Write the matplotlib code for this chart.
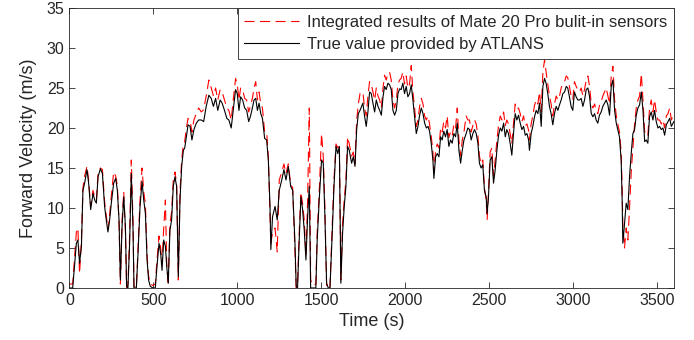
import numpy as np
import matplotlib
matplotlib.use("Agg")
import matplotlib.pyplot as plt

plt.rcParams["font.family"] = ["Liberation Sans", "DejaVu Sans"]

# time stamps (s), shared by both series
time_s = [
    0, 20, 30, 42, 51, 61, 72, 81, 91, 105, 115, 127, 141, 151, 161, 171, 185, 197, 210, 220,
    230, 240, 250, 264, 276, 286, 296, 304, 314, 324, 334, 341, 349, 359, 369, 379, 385, 399, 409, 421,
    433, 443, 453, 463, 472, 482, 498, 512, 522, 534, 544, 552, 562, 572, 580, 589, 599, 609, 619, 629,
    639, 649, 659, 669, 679, 687, 697, 707, 719, 730, 742, 756, 770, 786, 800, 815, 831, 845, 858, 871,
    884, 898, 910, 924, 938, 950, 964, 976, 990, 1000, 1010, 1020, 1032, 1044, 1056, 1068, 1078, 1090, 1100, 1110,
    1120, 1130, 1140, 1150, 1163, 1175, 1185, 1195, 1200, 1210, 1225, 1238, 1250, 1265, 1278, 1290, 1304, 1318, 1330, 1343,
    1351, 1359, 1369, 1379, 1389, 1399, 1409, 1419, 1429, 1437, 1452, 1468, 1476, 1488, 1502, 1512, 1522, 1532, 1542, 1552,
    1564, 1576, 1588, 1598, 1608, 1617, 1627, 1637, 1647, 1657, 1667, 1681, 1691, 1701, 1711, 1721, 1731, 1748, 1758, 1768,
    1778, 1788, 1798, 1808, 1818, 1828, 1838, 1848, 1858, 1868, 1877, 1887, 1897, 1907, 1917, 1927, 1937, 1947, 1957, 1967,
    1976, 1986, 1996, 2006, 2016, 2026, 2036, 2046, 2056, 2066, 2076, 2086, 2096, 2106, 2116, 2126, 2136, 2145, 2155, 2165,
    2171, 2181, 2191, 2201, 2211, 2220, 2230, 2240, 2250, 2260, 2270, 2280, 2290, 2300, 2310, 2320, 2330, 2340, 2350, 2363,
    2373, 2383, 2393, 2403, 2413, 2423, 2433, 2442, 2452, 2462, 2472, 2482, 2488, 2496, 2506, 2516, 2526, 2536, 2546, 2556,
    2566, 2576, 2586, 2596, 2605, 2615, 2625, 2635, 2645, 2655, 2665, 2675, 2685, 2695, 2705, 2715, 2725, 2735, 2740, 2750,
    2760, 2770, 2780, 2790, 2800, 2810, 2820, 2830, 2839, 2849, 2859, 2869, 2879, 2889, 2899, 2909, 2919, 2929, 2939, 2949,
    2959, 2968, 2978, 2988, 2998, 3008, 3018, 3028, 3038, 3048, 3058, 3068, 3078, 3088, 3098, 3108, 3118, 3128, 3137, 3147,
    3157, 3167, 3177, 3187, 3197, 3207, 3217, 3227, 3237, 3247, 3257, 3266, 3276, 3286, 3292, 3296, 3306, 3316, 3326, 3336,
    3346, 3356, 3366, 3376, 3386, 3396, 3406, 3416, 3426, 3435, 3445, 3455, 3465, 3475, 3485, 3495, 3505, 3515, 3525, 3535,
    3545, 3555, 3565, 3575, 3585, 3600,
]

# ATLANS reference velocity (m/s)
v_atlans = [
    0, 0, 2.5, 5.6, 6.0, 3.1, 5.2, 12.2, 13.1, 14.8, 13.1, 9.8, 11.8, 11.0, 10.6, 13.9, 14.9, 14.3, 10.2, 8.5,
    7.0, 8.5, 10.6, 13.1, 13.7, 12.2, 8.5, 1.0, 7.7, 11.4, 7.7, 0.2, 0, 5.6, 14.3, 7.7, 0, 0, 4.3, 10.2,
    13.3, 11.0, 9.3, 3.5, 1.0, 0.2, 0, 0, 2.7, 5.6, 4.3, 2.2, 6.0, 5.2, 2.7, 0.6, 7.2, 8.5, 12.7, 13.9,
    12.7, 1.4, 11.0, 15.2, 17.2, 17.5, 18.9, 20.4, 20.2, 18.5, 19.8, 20.6, 21.0, 21.0, 20.8, 22.7, 24.1, 23.7, 22.7, 23.7,
    22.2, 23.5, 23.1, 22.2, 21.2, 21.0, 20.0, 22.2, 24.8, 24.3, 22.2, 23.9, 23.5, 22.5, 22.2, 20.8, 21.4, 22.5, 23.5, 23.7,
    22.2, 23.1, 21.8, 21.2, 18.7, 18.5, 16.0, 10.2, 4.8, 8.9, 10.2, 8.5, 12.2, 13.5, 14.8, 13.5, 15.2, 12.7, 12.2, 6.0,
    0.2, 0, 6.0, 11.4, 9.8, 7.2, 3.5, 8.9, 12.7, 0, 0, 0, 6.0, 11.0, 16.0, 15.6, 8.9, 0.6, 0, 0,
    6.0, 12.7, 17.7, 16.8, 17.7, 0.6, 6.8, 10.2, 12.7, 17.7, 17.2, 15.6, 16.4, 15.2, 19.8, 21.8, 22.2, 23.1, 21.5, 20.2,
    22.0, 24.5, 24.3, 23.1, 22.0, 23.5, 22.7, 22.2, 21.6, 23.9, 25.2, 24.8, 25.6, 25.4, 24.8, 22.2, 21.6, 22.2, 24.3, 24.9,
    24.8, 25.6, 24.3, 25.2, 23.9, 24.3, 25.4, 23.5, 21.4, 19.3, 20.2, 21.6, 22.5, 21.8, 20.6, 20.0, 20.2, 19.6, 18.1, 16.0,
    13.7, 16.4, 16.8, 16.4, 18.9, 18.5, 19.6, 18.9, 19.8, 17.7, 18.5, 18.1, 19.3, 18.9, 20.6, 17.2, 15.6, 17.2, 18.5, 19.3,
    20.0, 19.8, 18.5, 19.3, 19.8, 19.3, 18.1, 15.6, 15.0, 15.4, 12.2, 11.4, 9.3, 11.4, 16.0, 16.4, 13.1, 14.8, 17.2, 19.1,
    20.0, 19.6, 20.6, 18.9, 19.8, 19.3, 18.1, 16.6, 19.3, 21.8, 21.0, 21.6, 20.6, 19.8, 20.2, 19.1, 19.3, 18.5, 17.2, 19.3,
    20.2, 21.4, 22.2, 21.8, 23.1, 20.2, 25.2, 26.2, 25.6, 24.3, 22.7, 21.8, 20.4, 21.8, 22.7, 22.2, 22.9, 23.5, 24.3, 24.5,
    25.2, 25.0, 23.9, 22.7, 22.2, 24.5, 23.9, 23.5, 23.5, 23.7, 22.7, 23.5, 24.8, 25.0, 23.9, 21.8, 21.4, 21.8, 21.0, 20.6,
    21.6, 22.0, 22.7, 23.1, 23.5, 22.9, 21.6, 25.2, 26.0, 22.2, 20.6, 19.8, 18.9, 16.0, 11.0, 5.6, 8.0, 10.6, 9.8, 13.9,
    16.8, 19.3, 19.8, 21.6, 22.5, 22.9, 24.5, 22.2, 18.3, 18.5, 18.1, 21.4, 22.0, 21.0, 22.2, 20.8, 20.0, 20.2, 19.8, 20.0,
    19.1, 20.4, 20.8, 21.2, 20.2, 20.8,
]

# integrated phone sensor velocity (m/s)
v_mate20 = [
    0.5, 0.5, 3.5, 7.0, 7.5, 1.8, 6.0, 12.5, 14.0, 15.2, 13.5, 10.2, 12.2, 11.3, 11.0, 14.3, 15.0, 14.8, 10.8, 9.0,
    7.3, 9.2, 11.5, 14.5, 14.0, 12.8, 8.0, 0.5, 8.5, 12.0, 7.0, 0, 0.5, 6.5, 16.0, 8.5, 0.2, 0, 5.0, 11.0,
    15.0, 12.0, 10.5, 4.0, 1.5, 0.5, 0.3, 0.5, 3.5, 6.5, 5.0, 3.0, 7.5, 11.0, 3.0, 0.3, 8.0, 9.5, 13.5, 14.5,
    13.0, 1.0, 12.0, 16.0, 18.0, 18.3, 20.0, 21.2, 21.0, 19.5, 21.0, 21.8, 22.5, 22.0, 22.3, 24.0, 26.0, 25.0, 24.0, 25.0,
    23.5, 24.8, 24.5, 23.5, 22.5, 22.2, 21.0, 23.5, 26.2, 25.5, 23.5, 25.0, 24.8, 23.7, 23.5, 22.0, 22.7, 23.7, 25.0, 25.8,
    23.5, 24.5, 23.0, 22.5, 19.5, 19.5, 16.5, 9.0, 5.5, 7.0, 7.5, 4.5, 13.5, 14.5, 15.5, 14.3, 15.5, 13.0, 12.5, 5.0,
    0, 0.5, 7.0, 12.0, 10.5, 8.5, 4.0, 11.0, 22.5, 1.0, 0.3, 0.5, 7.0, 12.0, 19.3, 16.5, 10.0, 0.3, 0.5, 0,
    7.0, 13.5, 18.0, 17.5, 18.0, 1.0, 8.0, 11.0, 13.5, 18.9, 18.0, 16.5, 17.0, 15.5, 21.0, 23.0, 24.3, 24.5, 22.5, 21.5,
    24.0, 25.8, 25.5, 24.5, 23.5, 25.0, 24.0, 23.5, 22.5, 25.0, 26.6, 26.0, 26.8, 27.0, 26.0, 23.5, 22.5, 23.5, 25.5, 26.0,
    26.2, 27.0, 25.5, 26.5, 25.0, 25.5, 27.8, 24.5, 22.5, 20.2, 21.0, 22.7, 23.7, 23.0, 21.5, 21.0, 21.5, 20.5, 19.0, 17.0,
    14.5, 17.2, 18.0, 17.5, 20.0, 19.5, 20.8, 20.0, 21.5, 18.8, 19.5, 19.0, 20.5, 20.0, 22.5, 18.5, 16.5, 18.5, 19.5, 21.5,
    21.0, 21.0, 19.5, 20.3, 21.0, 20.5, 19.0, 16.5, 15.5, 16.0, 12.5, 11.0, 8.5, 12.0, 17.0, 17.5, 14.0, 16.0, 18.5, 20.3,
    21.5, 21.0, 22.0, 20.3, 21.0, 20.5, 19.3, 18.0, 20.5, 23.0, 22.3, 22.5, 21.8, 20.8, 21.5, 20.3, 20.5, 19.7, 18.5, 20.5,
    21.5, 22.8, 23.5, 23.0, 24.5, 22.0, 27.0, 28.5, 27.0, 25.5, 24.0, 23.0, 21.5, 23.0, 24.0, 23.5, 24.0, 25.0, 25.5, 25.8,
    26.5, 26.3, 25.2, 24.0, 23.5, 25.8, 25.2, 24.8, 24.5, 25.0, 24.0, 24.8, 26.0, 26.5, 25.2, 23.0, 22.5, 23.0, 22.2, 21.8,
    22.8, 23.3, 24.0, 24.5, 25.0, 24.0, 23.0, 26.5, 27.7, 23.5, 21.5, 20.5, 19.5, 17.0, 12.5, 8.0, 5.0, 7.5, 6.0, 10.0,
    14.5, 17.5, 20.5, 22.5, 23.5, 24.0, 26.8, 23.5, 19.5, 19.5, 19.0, 22.5, 23.5, 22.0, 23.5, 22.0, 21.0, 21.0, 20.5, 21.0,
    20.0, 21.5, 21.8, 22.5, 21.0, 21.8,
]

dark = "#262626"

fig = plt.figure(figsize=(6.94, 3.4), dpi=100)
ax = fig.add_axes([0.0999, 0.153, 0.8711, 0.8235])

ax.plot(time_s, v_mate20, color="red", lw=0.8, dashes=(9, 5),
        label="Integrated results of Mate 20 Pro bulit-in sensors")
ax.plot(time_s, v_atlans, color="black", lw=0.8, label="True value provided by ATLANS")

ax.set_xlim(0, 3600)
ax.set_ylim(0, 35)
ax.set_xticks(np.arange(0, 3501, 500))
ax.set_yticks(np.arange(0, 36, 5))
ax.tick_params(direction="in", top=True, right=True, labelsize=11.5, colors=dark, length=4, width=0.6)
for s in ax.spines.values():
    s.set_color(dark)
    s.set_linewidth(0.6)

ax.set_xlabel("Time (s)", fontsize=13, color=dark, labelpad=4)
ax.set_ylabel("Forward Velocity (m/s)", fontsize=13, color=dark, labelpad=7)

leg = ax.legend(loc="upper right", fontsize=12, fancybox=False, framealpha=1,
                edgecolor=dark, borderaxespad=0, handlelength=3.3, borderpad=0.4,
                labelspacing=0.45, handletextpad=0.45)
leg.get_frame().set_linewidth(0.6)
for txt in leg.get_texts():
    txt.set_color(dark)

fig.savefig("out.png", dpi=100)
